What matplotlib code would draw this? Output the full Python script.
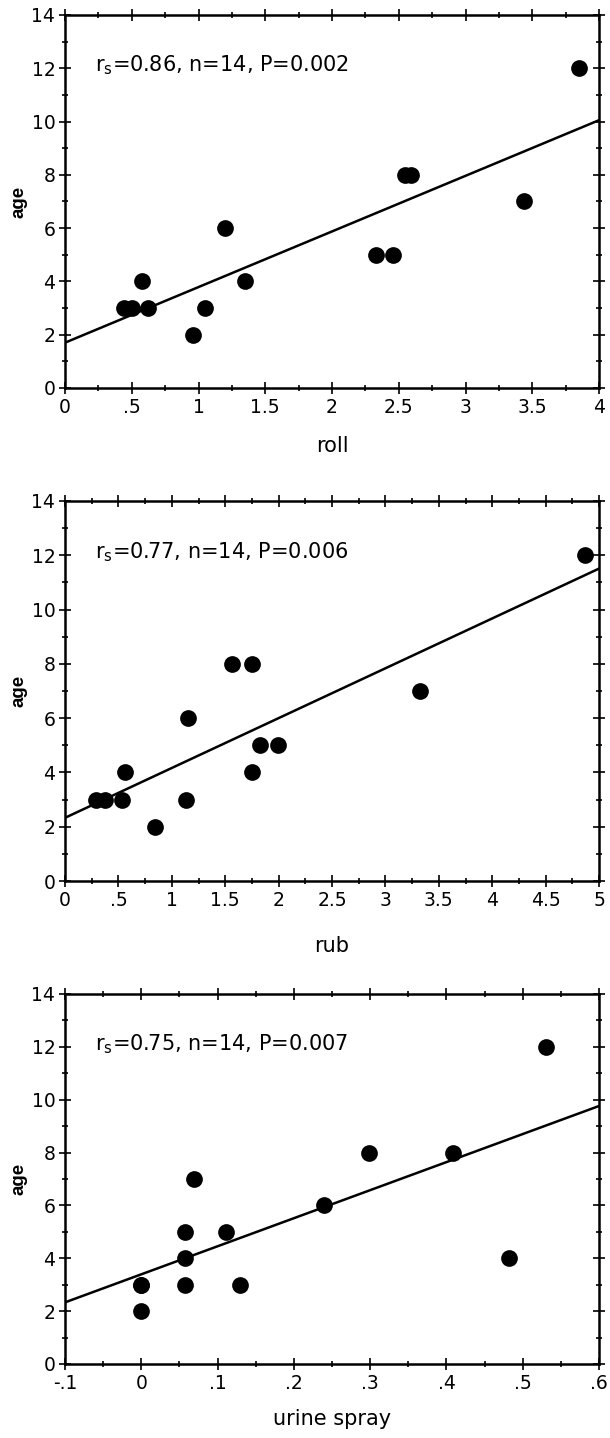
import numpy as np
import matplotlib
matplotlib.use("Agg")
import matplotlib.pyplot as plt
from matplotlib.ticker import MultipleLocator

plt.rcParams['font.family'] = ['DejaVu Sans']

# --- data ---
roll_x = [0.44, 0.50, 0.62, 0.58, 0.955, 1.05, 1.20, 1.35, 2.33, 2.46, 2.55, 2.59, 3.44, 3.85]
roll_age = [3, 3, 3, 4, 2, 3, 6, 4, 5, 5, 8, 8, 7, 12]
roll_fit = [1.70, 10.05]   # line value at left / right x limit

rub_x = [0.29, 0.37, 0.53, 0.565, 0.84, 1.13, 1.15, 1.56, 1.75, 1.75, 1.83, 1.99, 3.32, 4.87]
rub_age = [3, 3, 3, 4, 2, 3, 6, 8, 8, 4, 5, 5, 7, 12]
rub_fit = [2.33, 11.51]

urine_x = [0.0, 0.0, 0.0, 0.057, 0.057, 0.057, 0.069, 0.111, 0.130, 0.240, 0.298, 0.408, 0.482, 0.531]
urine_age = [3, 3, 2, 3, 4, 5, 7, 5, 3, 6, 8, 8, 4, 12]
urine_fit = [2.33, 9.76]

stats = ["0.86", "0.77", "0.75"]
pvals = ["0.002", "0.006", "0.007"]
n_obs = 14

roll_ticks = [0, 0.5, 1, 1.5, 2, 2.5, 3, 3.5, 4]
roll_labels = ["0", ".5", "1", "1.5", "2", "2.5", "3", "3.5", "4"]
rub_ticks = [0, 0.5, 1, 1.5, 2, 2.5, 3, 3.5, 4, 4.5, 5]
rub_labels = ["0", ".5", "1", "1.5", "2", "2.5", "3", "3.5", "4", "4.5", "5"]
urine_ticks = [-0.1, 0, 0.1, 0.2, 0.3, 0.4, 0.5, 0.6]
urine_labels = ["-.1", "0", ".1", ".2", ".3", ".4", ".5", ".6"]
age_ticks = [0, 2, 4, 6, 8, 10, 12, 14]

panels = [
    dict(x=roll_x, y=roll_age, fit=roll_fit, xlim=(0, 4), ticks=roll_ticks, labels=roll_labels,
         minor=0.25, xlabel="roll", rect=[0.1066, 0.7302, 0.8754, 0.2594], xlab_pad=14),
    dict(x=rub_x, y=rub_age, fit=rub_fit, xlim=(0, 5), ticks=rub_ticks, labels=rub_labels,
         minor=0.25, xlabel="rub", rect=[0.1066, 0.3873, 0.8754, 0.2643], xlab_pad=19),
    dict(x=urine_x, y=urine_age, fit=urine_fit, xlim=(-0.1, 0.6), ticks=urine_ticks, labels=urine_labels,
         minor=0.05, xlabel="urine spray", rect=[0.1066, 0.0515, 0.8754, 0.2573], xlab_pad=12),
]

fig = plt.figure(figsize=(6.1, 14.38), dpi=100)

for i, p in enumerate(panels):
    ax = fig.add_axes(p["rect"])
    ax.scatter(p["x"], p["y"], s=145, color="black", zorder=3, linewidths=0)
    ax.plot(p["xlim"], p["fit"], color="black", lw=1.8)
    ax.set_xlim(p["xlim"])
    ax.set_ylim(0, 14)
    ax.set_xticks(p["ticks"])
    ax.set_xticklabels(p["labels"])
    ax.set_yticks(age_ticks)
    ax.xaxis.set_minor_locator(MultipleLocator(p["minor"]))
    ax.yaxis.set_minor_locator(MultipleLocator(1))
    ax.tick_params(which="both", direction="inout", top=True, right=True,
                   labelsize=13.5, width=1.2, pad=3)
    ax.tick_params(which="major", length=8)
    ax.tick_params(which="minor", length=4)
    for sp in ax.spines.values():
        sp.set_linewidth(1.8)
    ax.set_ylabel("age", fontsize=13.5, fontweight="bold", family="Liberation Sans", labelpad=3)
    ax.set_xlabel(p["xlabel"], fontsize=15, labelpad=p["xlab_pad"])
    ax.text(0.056, 0.865,
            r"r$_{\mathregular{s}}$=" + stats[i] + ", n=" + str(n_obs) + ", P=" + pvals[i],
            transform=ax.transAxes, fontsize=15, va="center", ha="left")

fig.savefig("out.png", dpi=100)
